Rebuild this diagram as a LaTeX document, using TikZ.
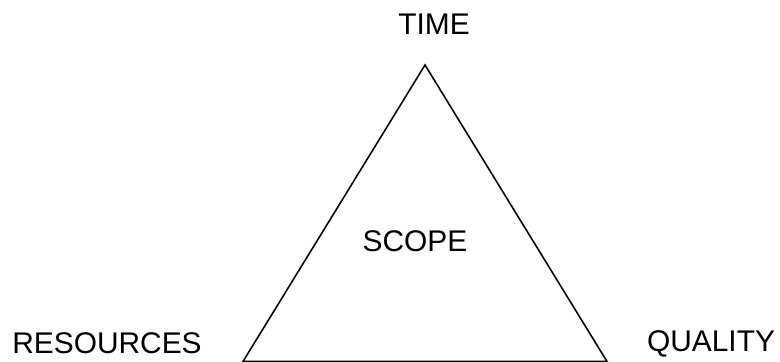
\documentclass[tikz,border=0pt]{standalone}
\usepackage{fontspec}
\setmainfont{Liberation Sans}
\usepackage{tikz}

\begin{document}
\begin{tikzpicture}[x=0.01cm, y=-0.01cm,
        corner/.style={font=\fontsize{8.5}{10}\selectfont, inner sep=0pt, anchor=center}]
        \useasboundingbox (0,0) rectangle (780,362);

        % Triangle corners
        \coordinate (top) at (425,65);
        \coordinate (left) at (243,361.5);
        \coordinate (right) at (607,361.5);
        \draw[line width=0.45pt, line join=miter] (left) -- (top) -- (right) -- cycle;

        % Labels
        \node[corner] (time) at (434,24) {TIME};
        \node[corner] (scope) at (415,241) {SCOPE};
        \node[corner] (resources) at (107,343) {RESOURCES};
        \node[corner] (quality) at (711,344) {QUALITY};
    \end{tikzpicture}
\end{document}
